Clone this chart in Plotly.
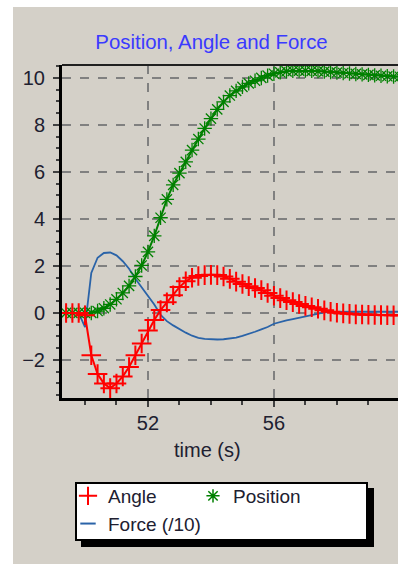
import plotly.graph_objects as go

# ---------------- data ----------------
time_s = [49.4, 49.6, 49.8, 50.0, 50.2, 50.4, 50.6, 50.8, 51.0, 51.2,
          51.4, 51.6, 51.8, 52.0, 52.2, 52.4, 52.6, 52.8, 53.0, 53.2,
          53.4, 53.6, 53.8, 54.0, 54.2, 54.4, 54.6, 54.8, 55.0, 55.2,
          55.4, 55.6, 55.8, 56.0, 56.2, 56.4, 56.6, 56.8, 57.0, 57.2,
          57.4, 57.6, 57.8, 58.0, 58.2, 58.4, 58.6, 58.8, 59.0, 59.2,
          59.4, 59.6, 59.8, 60.0]

angle = [0.0, 0.0, 0.0, -0.1, -1.8, -2.6, -3.0, -3.2, -3.0, -2.7,
         -2.3, -1.8, -1.3, -0.75, -0.3, 0.12, 0.45, 0.75, 1.1, 1.35,
         1.5, 1.57, 1.61, 1.62, 1.61, 1.55, 1.45, 1.33, 1.23, 1.14,
         1.06, 0.97, 0.85, 0.73, 0.63, 0.54, 0.46, 0.38, 0.30, 0.24,
         0.18, 0.11, 0.05, 0.01, -0.02, -0.04, -0.06, -0.07, -0.08, -0.09,
         -0.09, -0.10, -0.10, -0.10]

position = [0.0, 0.0, 0.0, 0.0, 0.0, 0.08, 0.2, 0.36, 0.58, 0.85,
            1.15, 1.55, 2.02, 2.6, 3.28, 4.05, 4.83, 5.45, 5.95, 6.43,
            6.93, 7.4, 7.85, 8.27, 8.66, 8.98, 9.25, 9.45, 9.62, 9.77,
            9.88, 10.0, 10.1, 10.18, 10.24, 10.28, 10.30, 10.31, 10.31, 10.30,
            10.29, 10.27, 10.25, 10.23, 10.21, 10.19, 10.17, 10.15, 10.13, 10.11,
            10.09, 10.07, 10.06, 10.05]

force_div10 = [0.0, 0.0, 0.0, -0.6, 1.7, 2.35, 2.55, 2.57, 2.45, 2.2,
               1.88, 1.45, 1.1, 0.72, 0.36, -0.08, -0.35, -0.53, -0.69, -0.84,
               -0.97, -1.06, -1.1, -1.12, -1.13, -1.12, -1.1, -1.05, -0.98, -0.9,
               -0.8, -0.7, -0.6, -0.46, -0.38, -0.32, -0.26, -0.2, -0.15, -0.1,
               -0.04, 0.02, 0.04, 0.05, 0.05, 0.05, 0.05, 0.05, 0.05, 0.05,
               0.05, 0.05, 0.05, 0.05]

series_names = ["Angle", "Position", "Force (/10)"]
title_text = "Position, Angle and Force"
x_title = "time (s)"

# ---------------- styling ----------------
W, H = 398, 564
L, R, T, B = 62, 0, 65, 166          # plot area: x 62..398, y 65..398
PW, PH = W - L - R, H - T - B
BG = "#d4d0c8"
FONT = "Liberation Sans, Arial, sans-serif"
RED, GREEN, BLUE = "#ff0000", "#008000", "#2a63a8"
TXT = "#202030"


def px_x(x):
    return (x - L) / PW


def px_y(y):
    return (H - B - y) / PH


fig = go.Figure()

fig.add_trace(go.Scatter(
    x=time_s, y=force_div10, mode="lines", name=series_names[2],
    line=dict(color=BLUE, width=1.8), showlegend=False))
fig.add_trace(go.Scatter(
    x=time_s, y=position, mode="lines+markers", name=series_names[1],
    line=dict(color=GREEN, width=2),
    marker=dict(symbol="asterisk-open", size=12, color=GREEN,
                line=dict(color=GREEN, width=1.3)),
    showlegend=False))
fig.add_trace(go.Scatter(
    x=time_s, y=angle, mode="lines+markers", name=series_names[0],
    line=dict(color=RED, width=2),
    marker=dict(symbol="cross-thin-open", size=14, color=RED,
                line=dict(color=RED, width=2)),
    showlegend=False))

# legend-only entries (symbols as in the reference legend)
fig.add_trace(go.Scatter(
    x=[None], y=[None], mode="markers", name=series_names[0],
    marker=dict(symbol="cross-thin-open", size=13, color=RED,
                line=dict(color=RED, width=2))))
fig.add_trace(go.Scatter(
    x=[None], y=[None], mode="markers", name=series_names[1],
    marker=dict(symbol="asterisk-open", size=11, color=GREEN,
                line=dict(color=GREEN, width=1.5))))
fig.add_trace(go.Scatter(
    x=[None], y=[None], mode="markers", name=series_names[2],
    marker=dict(symbol="line-ew-open", size=11, color=BLUE,
                line=dict(color=BLUE, width=2))))

shapes = [
    # white page strips (left and top)
    dict(type="rect", xref="paper", yref="paper", layer="below",
         x0=px_x(0), x1=px_x(13), y0=px_y(H + 5), y1=px_y(-5),
         fillcolor="white", line=dict(width=0)),
    dict(type="rect", xref="paper", yref="paper", layer="below",
         x0=px_x(0), x1=px_x(W + 5), y0=px_y(7), y1=px_y(-5),
         fillcolor="white", line=dict(width=0)),
    # thin top frame line
    dict(type="line", xref="paper", yref="paper", layer="above",
         x0=0, x1=1, y0=1, y1=1, line=dict(color="#202020", width=2)),
    # legend shadow and legend box
    dict(type="rect", xref="paper", yref="paper", layer="above",
         x0=px_x(81), x1=px_x(374), y0=px_y(547), y1=px_y(488),
         fillcolor="black", line=dict(width=0)),
    dict(type="rect", xref="paper", yref="paper", layer="above",
         x0=px_x(76), x1=px_x(367), y0=px_y(540), y1=px_y(483),
         fillcolor="white", line=dict(color="black", width=2)),
]

annotations = [
    dict(text=x_title, xref="paper", yref="paper", x=px_x(207), y=px_y(450),
         xanchor="center", yanchor="middle", showarrow=False,
         font=dict(family=FONT, size=20, color=TXT)),
]

fig.update_layout(
    width=W, height=H,
    margin=dict(l=L, r=R, t=T, b=B, pad=0),
    paper_bgcolor=BG, plot_bgcolor=BG,
    font=dict(family=FONT, size=20, color=TXT),
    title=dict(text=title_text, x=211.5 / W, xanchor="center",
               y=1 - 42 / H, yanchor="middle",
               font=dict(family=FONT, size=20.4, color="#3a3aff")),
    showlegend=True,
    legend=dict(orientation="h", x=px_x(68), xanchor="left",
                y=px_y(477), yanchor="top",
                bgcolor="rgba(0,0,0,0)", borderwidth=0,
                font=dict(family=FONT, size=19, color=TXT),
                entrywidth=80, entrywidthmode="pixels", itemwidth=30,
                tracegroupgap=0),
    shapes=shapes,
    annotations=annotations,
)

fig.update_xaxes(
    range=[49.27, 59.94], tick0=48, dtick=4,
    showgrid=True, gridcolor="#808080", griddash="dash", gridwidth=1.5,
    zeroline=False, showline=True, linecolor="black", linewidth=3,
    ticks="outside", ticklen=6, tickwidth=1.5, tickcolor="#404040",
    ticklabelstandoff=-1,
    minor=dict(dtick=1, ticks="outside", ticklen=4, tickwidth=1.5,
               tickcolor="#404040", showgrid=False),
    tickfont=dict(size=20, color=TXT),
)
fig.update_yaxes(
    range=[-3.62, 10.55], tick0=0, dtick=2,
    showgrid=True, gridcolor="#808080", griddash="dash", gridwidth=1.5,
    zeroline=False, showline=True, linecolor="black", linewidth=3,
    ticks="outside", ticklen=6, tickwidth=1.5, tickcolor="#404040",
    ticklabelstandoff=4,
    minor=dict(dtick=0.5, ticks="outside", ticklen=3, tickwidth=1.5,
               tickcolor="#404040", showgrid=False),
    tickfont=dict(size=20, color=TXT),
)

fig.write_html("out.html", config={"displayModeBar": False},
               post_script="document.body.style.margin='0';")
